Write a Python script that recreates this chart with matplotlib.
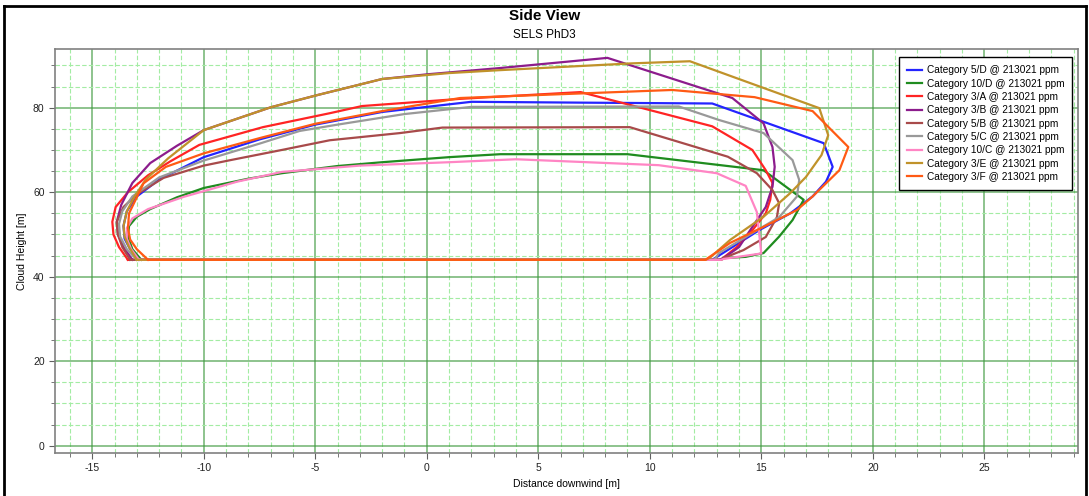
import matplotlib
matplotlib.use("Agg")
import matplotlib.pyplot as plt
from matplotlib.ticker import MultipleLocator
from matplotlib.lines import Line2D

plt.rcParams['font.family'] = ['Liberation Sans', 'DejaVu Sans']
plt.rcParams['axes.unicode_minus'] = False

labels = ["Category 5/D @ 213021 ppm", "Category 10/D @ 213021 ppm", "Category 3/A @ 213021 ppm",
          "Category 3/B @ 213021 ppm", "Category 5/B @ 213021 ppm", "Category 5/C @ 213021 ppm",
          "Category 10/C @ 213021 ppm", "Category 3/E @ 213021 ppm", "Category 3/F @ 213021 ppm"]
colors = ["#2424ff", "#1f8c1f", "#ff2424", "#8c1c8c", "#a84a4a", "#999999", "#ff85c4", "#c0922a", "#ff5a14"]

# 5/D
x_5D = [-12.9, -13.3, -13.55, -13.6, -13.45, -13.0, -12.0, -10.0, -7.5, -5.0, -2.0, 2.0, 7.0, 12.8, 17.8, 18.2, 17.9, 17.3, 16.3, 14.9, 13.7, 12.8, -12.9]
y_5D = [44, 46.5, 49, 52, 55.5, 59, 63, 68.3, 72.5, 76, 79, 81.4, 81.2, 81.0, 71.6, 66, 62.5, 59, 55, 51, 47, 44, 44]
# 10/D
x_10D = [-12.8, -13.2, -13.4, -13.35, -13.0, -12.4, -11.2, -10.0, -8.0, -6.5, -4.0, -2.0, 1.0, 3.3, 9.0, 15.1, 16.9, 16.4, 15.8, 15.1, 14.3, 13.3, 13.2, -12.8]
y_10D = [44, 46.5, 49.5, 52, 54.2, 56, 58.8, 61, 63.2, 64.5, 66.2, 67.1, 68.3, 69, 69, 65.2, 58.2, 53.4, 49.5, 45.6, 44.7, 44.4, 44, 44]
# 3/A
x_3A = [-13.4, -13.8, -14.05, -14.1, -13.95, -13.4, -12.5, -11.5, -10.2, -7.35, -4.35, -2.9, 1.5, 6.9, 12.8, 14.6, 15.2, 15.5, 15.4, 15.2, 14.6, 13.9, 13.3, 13.2, -13.4]
y_3A = [44, 47, 50, 53, 56.5, 60, 64, 67.3, 71.2, 75.4, 78.7, 80.4, 82.1, 83.7, 75.6, 70, 65.2, 62.2, 58.2, 55, 51, 47, 44.5, 44, 44]
# 3/B
x_3B = [-13.2, -13.6, -13.85, -13.9, -13.7, -13.2, -12.4, -11.2, -10.0, -7.0, -4.9, -2.0, 0.0, 3.3, 8.1, 13.7, 15.1, 15.5, 15.6, 15.5, 15.2, 14.6, 14.0, 13.3, 13.1, -13.2]
y_3B = [44, 47, 50, 53, 57, 62.2, 66.9, 71.0, 74.7, 80.1, 83, 86.8, 87.9, 89.4, 91.8, 82.3, 76.3, 70.7, 66, 61.3, 56.5, 51.8, 47, 44.4, 44, 44]
# 5/B
x_5B = [-13.3, -13.65, -13.85, -13.9, -13.6, -13.0, -11.8, -10.0, -8.8, -6.5, -4.35, -1.2, 0.7, 9.1, 13.5, 14.8, 15.5, 15.8, 15.7, 15.2, 14.2, 13.3, 13.2, -13.3]
y_5B = [44, 47, 50, 53, 56.5, 59.5, 63.4, 66.3, 67.6, 70, 72.3, 74, 75.3, 75.4, 68.4, 64.5, 60.5, 57.4, 54.1, 49.4, 46.3, 44.4, 44, 44]
# 5/C
x_5C = [-13.0, -13.45, -13.75, -13.8, -13.65, -13.2, -12.0, -10.0, -7.5, -5.7, -4.0, -1.0, 2.0, 11.3, 13.1, 15.1, 16.4, 16.7, 16.6, 15.8, 14.3, 13.1, 12.9, -13.0]
y_5C = [44, 46.5, 49.5, 52.5, 55.5, 59, 63.5, 67.5, 71.5, 74.5, 76, 78.5, 80.2, 80.3, 77.1, 74, 67.6, 62.9, 59, 54.1, 49.4, 45.6, 44, 44]
# 10/C
x_10C = [-12.9, -13.25, -13.45, -13.45, -13.2, -12.5, -10.9, -8.5, -6.5, -3.0, 1.0, 4.0, 10.4, 13.0, 14.3, 14.8, 15.0, 13.3, 13.2, -12.9]
y_10C = [44, 46.5, 49, 51.5, 53.8, 56, 58.9, 62.5, 64.8, 66.3, 67.1, 67.8, 66.4, 64.5, 61.5, 55.3, 45.5, 44.2, 44, 44]
# 3/E
x_3E = [-13.0, -13.35, -13.55, -13.6, -13.45, -13.1, -12.6, -11.6, -10.0, -7.0, -4.9, -2.0, 1.0, 3.3, 9.2, 11.8, 17.6, 18.0, 17.7, 17.0, 16.3, 15.1, 13.6, 12.7, 12.5, -13.0]
y_3E = [44, 47, 49.5, 52, 55.5, 59, 63, 68, 74.7, 80.1, 83, 86.8, 88.2, 88.9, 90.5, 91.0, 79.9, 73.5, 68.8, 63.6, 59.8, 54.2, 48.7, 44.5, 44, 44]
# 3/F
x_3F = [-12.5, -13.0, -13.3, -13.4, -13.35, -12.7, -11.7, -10.0, -7.5, -5.0, -2.0, 1.5, 11.0, 14.7, 17.3, 18.9, 18.5, 17.3, 16.6, 15.1, 13.6, 12.6, 12.5, -12.5]
y_3F = [44, 46.5, 48.8, 51.5, 55, 62.1, 66, 69.2, 72.8, 76.2, 79.2, 82.3, 84.2, 82.5, 79.2, 70.7, 65.2, 59, 55.8, 51.8, 48, 44.4, 44, 44]

series_x = [x_5D, x_10D, x_3A, x_3B, x_5B, x_5C, x_10C, x_3E, x_3F]
series_y = [y_5D, y_10D, y_3A, y_3B, y_5B, y_5C, y_10C, y_3E, y_3F]

x_ticks = [-15, -10, -5, 0, 5, 10, 15, 20, 25]
y_ticks = [0, 20, 40, 60, 80]

W, H = 1089, 496
fig = plt.figure(figsize=(W / 100, H / 100), dpi=100)
ax = fig.add_axes([55 / W, 1 - 453 / H, (1078 - 55) / W, (453 - 49) / H])

for xs, ys, c, lab in zip(series_x, series_y, colors, labels):
    ax.plot(xs, ys, color=c, lw=1.6, label=lab, solid_joinstyle='round', zorder=3)

ax.set_xlim(-16.67, 29.2)
ax.set_ylim(-1.73, 93.9)
ax.set_xticks(x_ticks)
ax.set_yticks(y_ticks)
ax.xaxis.set_minor_locator(MultipleLocator(1))
ax.yaxis.set_minor_locator(MultipleLocator(5))
ax.grid(which='major', color='#3f993f', lw=1.1, alpha=0.75, zorder=1)
ax.grid(which='minor', color='#a3eca3', lw=0.8, ls=(0, (4, 2)), zorder=0)
ax.set_axisbelow(True)
for s in ax.spines.values():
    s.set_color('#808080')
    s.set_linewidth(1.2)
ax.tick_params(which='both', direction='out', color='#606060', labelsize=7.5, labelcolor='#222222')
ax.tick_params(which='major', length=4)
ax.tick_params(which='minor', length=3)
ax.set_xlabel("Distance downwind [m]", fontsize=7.5, labelpad=4)
ax.set_ylabel("Cloud Height [m]", fontsize=7.5, labelpad=4)

leg = ax.legend(loc='upper right', bbox_to_anchor=(0.9945, 0.98), borderaxespad=0, fontsize=7.3,
                fancybox=False, framealpha=1, edgecolor='black', handlelength=1.5,
                labelspacing=0.33, handletextpad=0.45, borderpad=0.8)
leg.get_frame().set_linewidth(1.0)

fig.text(0.5, 1 - 16 / H, "Side View", ha='center', va='center', fontsize=11, fontweight='bold')
fig.text(0.5, 1 - 35 / H, "SELS PhD3", ha='center', va='center', fontsize=8.5)

fig.add_artist(Line2D([3.5 / W, 3.5 / W], [0, 1 - 6 / H], color='black', lw=2, transform=fig.transFigure))
fig.add_artist(Line2D([3.5 / W, 1086 / W], [1 - 6 / H, 1 - 6 / H], color='black', lw=2, transform=fig.transFigure))
fig.add_artist(Line2D([1086 / W, 1086 / W], [0, 1 - 6 / H], color='black', lw=2, transform=fig.transFigure))

fig.savefig("out.png", dpi=100)
